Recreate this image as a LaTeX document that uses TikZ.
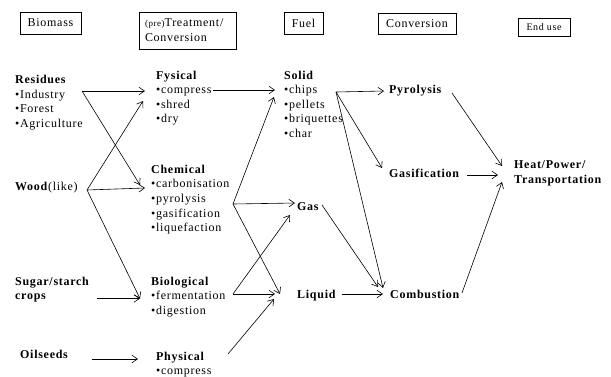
\documentclass[tikz,border=0pt]{standalone}
\usepackage{fontspec}
\setmainfont{Liberation Serif}[LetterSpace=6]
\usetikzlibrary{arrows.meta}
\begin{document}
\begin{tikzpicture}[x=1pt,y=-1pt,
  txt/.style={font=\fontsize{12}{14.5}\selectfont, inner sep=0pt, anchor=base west},
  hdr/.style={draw, line width=0.7pt, font=\fontsize{12}{15}\selectfont, inner sep=0pt},
  arr/.style={line width=0.6pt, -{Straight Barb[length=5.5pt,width=7.5pt]}}]
\useasboundingbox (0,0) rectangle (611,376);
% headers
\node[hdr, minimum width=61pt, minimum height=22pt] (hbio) at (50.5,23) {Biomass};
\node[hdr, minimum width=97pt, minimum height=37pt, text width=86pt, align=left] (htre) at (188,30.5) {{\fontsize{9}{10}\selectfont (pre)}Treatment/\\Conversion};
\node[hdr, minimum width=39pt, minimum height=22pt] (hfuel) at (303.5,23) {Fuel};
\node[hdr, minimum width=78pt, minimum height=21pt] (hconv) at (417,23.5) {Conversion};
\node[hdr, minimum width=52pt, minimum height=18pt, font=\fontsize{10}{12}\selectfont] (hend) at (544,27) {End use};
% biomass column
\node[txt] (res) at (15,83.5) {\textbf{Residues}};
\node[txt] (ind) at (15,98) {•Industry};
\node[txt] (for) at (15,112.5) {•Forest};
\node[txt] (agr) at (15,127) {•Agriculture};
\node[txt] (wood) at (15,190) {\textbf{Wood}(like)};
\node[txt] (sug) at (15,285) {\textbf{Sugar/starch}};
\node[txt] (crops) at (15,299.5) {\textbf{crops}};
\node[txt] (oil) at (20,358.5) {\textbf{Oilseeds}};
% treatment column
\node[txt] (fys) at (156,79) {\textbf{Fysical}};
\node[txt] (fcomp) at (156,93.5) {•compress};
\node[txt] (fshred) at (156,108) {•shred};
\node[txt] (fdry) at (156,122.5) {•dry};
\node[txt] (chem) at (151,173) {\textbf{Chemical}};
\node[txt] (carb) at (151,187.5) {•carbonisation};
\node[txt] (cpyr) at (151,202.5) {•pyrolysis};
\node[txt] (cgas) at (151,217) {•gasification};
\node[txt] (cliq) at (151,231.5) {•liquefaction};
\node[txt] (biol) at (151,285) {\textbf{Biological}};
\node[txt] (ferm) at (151,299.5) {•fermentation};
\node[txt] (dig) at (151,314) {•digestion};
\node[txt] (phys) at (156,360) {\textbf{Physical}};
\node[txt] (pcomp) at (156,374.5) {•compress};
% fuel column
\node[txt] (solid) at (284,79) {\textbf{Solid}};
\node[txt] (chips) at (284,93.5) {•chips};
\node[txt] (pell) at (284,108) {•pellets};
\node[txt] (briq) at (284,122.5) {•briquettes};
\node[txt] (char) at (284,137) {•char};
\node[txt] (gas) at (297,210) {\textbf{Gas}};
\node[txt] (liq) at (297,298.5) {\textbf{Liquid}};
% conversion column
\node[txt] (pyro) at (389,93.3) {\textbf{Pyrolysis}};
\node[txt] (gasif) at (389,177.7) {\textbf{Gasification}};
\node[txt] (comb) at (390,298.7) {\textbf{Combustion}};
% end use
\node[txt] (heat) at (514,168.3) {\textbf{Heat/Power/}};
\node[txt] (trans) at (514,183.3) {\textbf{Transportation}};
% connector points
\coordinate (R0) at (82,91);
\coordinate (W0) at (87,190);
\coordinate (S0) at (97,298.5);
\coordinate (O0) at (92,359);
\coordinate (FysIn) at (145,91);
\coordinate (FysIn2) at (143,101);
\coordinate (ChemIn1) at (140,185);
\coordinate (ChemIn2) at (145,188);
\coordinate (BioIn) at (140,298.5);
\coordinate (PhysIn) at (138,359);
\coordinate (C0) at (213,90);
\coordinate (Ch0) at (233,204);
\coordinate (B0) at (233,294);
\coordinate (P0) at (228,354);
\coordinate (SolIn1) at (275,90);
\coordinate (SolIn2) at (274,97);
\coordinate (GasIn1) at (295,203);
\coordinate (GasIn2) at (290,215);
\coordinate (LiqIn1) at (280,294);
\coordinate (LiqIn2) at (275,294);
\coordinate (LiqIn3) at (274,299);
\coordinate (Sol0) at (336,92);
\coordinate (Gas0) at (322,205);
\coordinate (Liq0) at (342,294);
\coordinate (PyrIn) at (384,91);
\coordinate (GasfIn) at (382,168);
\coordinate (CombIn1) at (383,288);
\coordinate (CombIn2) at (378,287);
\coordinate (CombIn3) at (383,294);
\coordinate (Pyr0) at (452,93);
\coordinate (Gasf0) at (467,175);
\coordinate (Comb0) at (462,293);
\coordinate (HeatIn1) at (502,166);
\coordinate (HeatIn2) at (498,175);
\coordinate (HeatIn3) at (502,182);
% arrows biomass -> treatment
\draw[arr] (R0) -- (FysIn);
\draw[arr] (R0) -- (ChemIn1);
\draw[arr] (W0) -- (FysIn2);
\draw[arr] (W0) -- (ChemIn2);
\draw[arr] (W0) -- (BioIn);
\draw[arr] (S0) -- (BioIn);
\draw[arr] (O0) -- (PhysIn);
% treatment -> fuel
\draw[arr] (C0) -- (SolIn1);
\draw[arr] (Ch0) -- (SolIn2);
\draw[arr] (Ch0) -- (GasIn1);
\draw[arr] (Ch0) -- (LiqIn1);
\draw[arr] (B0) -- (GasIn2);
\draw[arr] (B0) -- (LiqIn2);
\draw[arr] (P0) -- (LiqIn3);
% fuel -> conversion
\draw[arr] (Sol0) -- (PyrIn);
\draw[arr] (Sol0) -- (GasfIn);
\draw[arr] (Sol0) -- (CombIn1);
\draw[arr] (Gas0) -- (CombIn2);
\draw[arr] (Liq0) -- (CombIn3);
% conversion -> end use
\draw[arr] (Pyr0) -- (HeatIn1);
\draw[arr] (Gasf0) -- (HeatIn2);
\draw[arr] (Comb0) -- (HeatIn3);
\end{tikzpicture}
\end{document}
